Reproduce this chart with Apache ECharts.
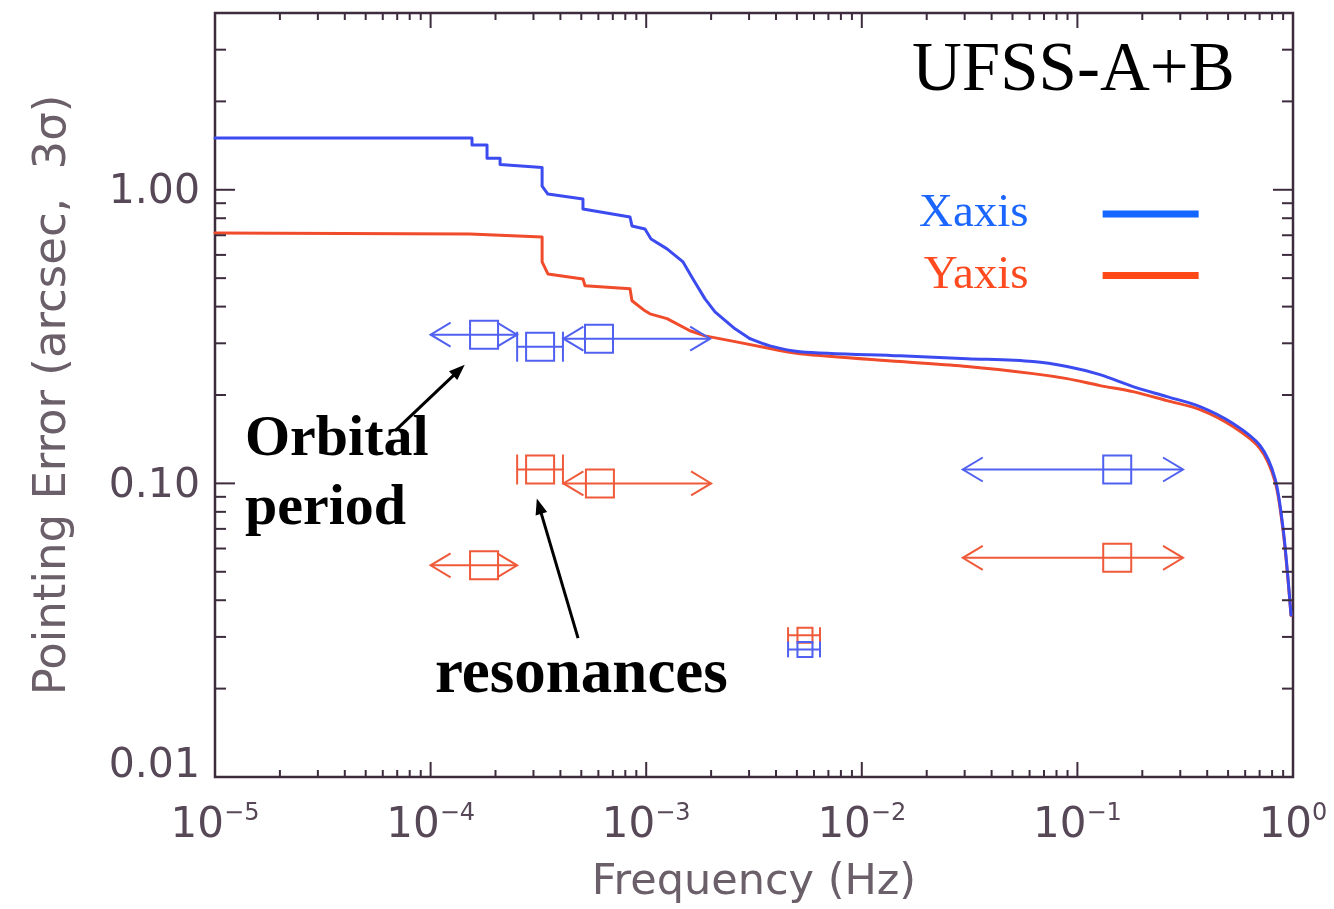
<!DOCTYPE html>
<html>
<head>
<meta charset="utf-8">
<script src="https://cdn.jsdelivr.net/npm/echarts@6/dist/echarts.min.js"></script>
<style>
  html, body { margin: 0; padding: 0; background: #ffffff; }
  #chart { width: 1334px; height: 909px; }
</style>
</head>
<body>
<div id="chart"></div>
<script>
// Cumulative pointing error (3 sigma) against frequency, UFSS-A+B

// X-axis attitude error curve
const xaxisFreq = [1e-5, 1.556e-4, 1.556e-4, 1.827e-4, 1.827e-4, 2.10e-4, 2.10e-4, 3.29e-4, 3.29e-4, 3.50e-4,
  5.09e-4, 5.09e-4, 8.41e-4, 8.59e-4, 9.87e-4, 1.053e-3, 1.249e-3, 1.482e-3, 1.648e-3, 1.874e-3,
  2.085e-3, 2.582e-3, 3.03e-3, 3.75e-3, 5.17e-3, 1.504e-2, 3.08e-2, 6.22e-2, 8.95e-2, 0.1273,
  0.1811, 0.2603, 0.3703, 0.527, 0.703, 0.825, 0.899, 0.948, 0.979];
const xaxisError = [1.50, 1.50, 1.42, 1.42, 1.28, 1.28, 1.22, 1.19, 1.03, 0.967,
  0.930, 0.860, 0.808, 0.753, 0.735, 0.680, 0.629, 0.568, 0.497, 0.425,
  0.384, 0.336, 0.311, 0.294, 0.281, 0.272, 0.266, 0.260, 0.250, 0.2346,
  0.2136, 0.1975, 0.1827, 0.160, 0.1346, 0.104, 0.0704, 0.0476, 0.0356];

// Y-axis attitude error curve
const yaxisFreq = [1e-5, 1.523e-4, 3.29e-4, 3.29e-4, 3.50e-4, 5.09e-4, 5.20e-4, 8.41e-4, 8.59e-4, 9.87e-4,
  1.041e-3, 1.249e-3, 1.596e-3, 1.874e-3, 2.582e-3, 3.75e-3, 5.17e-3, 1.504e-2, 3.08e-2, 6.22e-2,
  8.95e-2, 0.1273, 0.1811, 0.2603, 0.3703, 0.527, 0.703, 0.825, 0.899, 0.948, 0.979];
const yaxisError = [0.713, 0.707, 0.691, 0.568, 0.517, 0.497, 0.471, 0.460, 0.419, 0.387,
  0.378, 0.364, 0.331, 0.318, 0.304, 0.288, 0.2765, 0.260, 0.250, 0.2365,
  0.2274, 0.2153, 0.2054, 0.1914, 0.1784, 0.1562, 0.1315, 0.1016, 0.0692, 0.0468, 0.0355];

// Above this frequency both curves roll off smoothly; below it they are stepped
const SMOOTH_FROM = 3.0e-3;

// Disturbance bands: [centre freq, error, low freq, high freq, low end, high end]
const ARROW = 0, CAP = 1;
const xaxisBands = [
  [1.77e-4, 0.321, 1.0e-4, 2.52e-4, ARROW, ARROW],
  [3.22e-4, 0.292, 2.52e-4, 4.11e-4, CAP, CAP],
  [6.04e-4, 0.311, 4.13e-4, 1.98e-3, ARROW, ARROW],
  [0.153, 0.1115, 0.0294, 0.309, ARROW, ARROW]
];
const yaxisBands = [
  [3.22e-4, 0.1115, 2.52e-4, 4.11e-4, CAP, CAP],
  [6.10e-4, 0.100, 4.13e-4, 2.0e-3, ARROW, ARROW],
  [1.77e-4, 0.0526, 1.0e-4, 2.52e-4, ARROW, ARROW],
  [0.153, 0.0558, 0.0294, 0.309, ARROW, ARROW]
];
const xaxisNarrow = [[5.45e-3, 0.0272, 4.55e-3, 6.4e-3, CAP, CAP]];
const yaxisNarrow = [[5.45e-3, 0.0304, 4.55e-3, 6.4e-3, CAP, CAP]];

// Callout arrows: [tail freq, tail error, head freq, head error]
const calloutArrows = [
  [6.84e-5, 0.151, 1.44e-4, 0.2537],
  [4.83e-4, 0.0297, 3.11e-4, 0.0889]
];

// Axis ranges and tick labels
const X_MIN = 1e-5, X_MAX = 1, Y_MIN = 0.01, Y_MAX = 4;
const xTickExponents = [-5, -4, -3, -2, -1, 0];
const yTickValues = [0.01, 0.1, 1];
const yTickLabels = ['0.01', '0.10', '1.00'];

const AXIS_INK = '#3d2c3d';
const LABEL_INK = '#574857';
const TITLE_INK = '#6b5f6a';
const BLUE_CURVE = '#3c4bf0', RED_CURVE = '#f04b2b';
const BLUE_MARK = '#5060f0', RED_MARK = '#ef5a3a';

function logTicks(lo, hi) {
  const out = [];
  for (let e = Math.floor(Math.log10(lo) + 1e-9); Math.pow(10, e) <= hi * 1.0001; e++) {
    for (let m = 1; m < 10; m++) {
      const v = m * Math.pow(10, e);
      if (v >= lo * 0.9999 && v <= hi * 1.0001) out.push([v, m === 1 ? 1 : 0]);
    }
  }
  return out;
}
const xTicks = logTicks(X_MIN, X_MAX).map(t => [t[0], Y_MIN, t[1]]);
const yTicks = logTicks(Y_MIN, Y_MAX).map(t => [X_MIN, t[0], t[1]]);

function tickStyle() { return { stroke: AXIS_INK, lineWidth: 2 }; }

function renderXTick(params, api) {
  const v = api.value(0), major = api.value(2);
  const b = api.coord([v, Y_MIN]), t = api.coord([v, Y_MAX]);
  const len = major ? 15 : 7;
  return { type: 'group', children: [
    { type: 'line', shape: { x1: b[0], y1: b[1], x2: b[0], y2: b[1] - len }, style: tickStyle() },
    { type: 'line', shape: { x1: t[0], y1: t[1], x2: t[0], y2: t[1] + len }, style: tickStyle() }
  ]};
}
function renderYTick(params, api) {
  const v = api.value(1), major = api.value(2);
  const l = api.coord([X_MIN, v]), r = api.coord([X_MAX, v]);
  const len = major ? 20 : 11;
  return { type: 'group', children: [
    { type: 'line', shape: { x1: l[0], y1: l[1], x2: l[0] + len, y2: l[1] }, style: tickStyle() },
    { type: 'line', shape: { x1: r[0], y1: r[1], x2: r[0] - len, y2: r[1] }, style: tickStyle() }
  ]};
}

function endMark(x, y, kind, dir, capHalf, st) {
  if (kind === CAP) {
    return { type: 'line', shape: { x1: x, y1: y - capHalf, x2: x, y2: y + capHalf }, style: st };
  }
  return { type: 'polyline', shape: { points: [[x - dir * 20, y - 12], [x, y], [x - dir * 20, y + 12]] }, style: st };
}
function bandRenderer(size, capHalf) {
  return function (params, api) {
    const e = api.value(1);
    const c = api.coord([api.value(0), e]);
    const l = api.coord([api.value(2), e]);
    const r = api.coord([api.value(3), e]);
    const color = api.visual('color');
    const st = { stroke: color, lineWidth: 2, fill: null };
    return { type: 'group', children: [
      { type: 'line', shape: { x1: l[0], y1: c[1], x2: r[0], y2: c[1] }, style: st },
      { type: 'rect', shape: { x: c[0] - size / 2, y: c[1] - size / 2, width: size, height: size },
        style: { stroke: color, lineWidth: 2, fill: 'none' } },
      endMark(l[0], c[1], api.value(4), -1, capHalf, st),
      endMark(r[0], c[1], api.value(5), 1, capHalf, st)
    ]};
  };
}

function renderCallout(params, api) {
  const a = api.coord([api.value(0), api.value(1)]);
  const b = api.coord([api.value(2), api.value(3)]);
  const ang = Math.atan2(b[1] - a[1], b[0] - a[0]);
  const ux = Math.cos(ang), uy = Math.sin(ang);
  const L = 16, W = 6;
  const bx = b[0] - ux * L, by = b[1] - uy * L;
  return { type: 'group', children: [
    { type: 'line', shape: { x1: a[0], y1: a[1], x2: bx + ux * 2, y2: by + uy * 2 },
      style: { stroke: '#000', lineWidth: 3 } },
    { type: 'polygon', shape: { points: [[b[0], b[1]], [bx - uy * W, by + ux * W], [bx + uy * W, by - ux * W]] },
      style: { fill: '#000' } }
  ]};
}

const zip = (fs, vs) => fs.map((f, i) => [f, vs[i]]);
// Split a curve into its stepped low-frequency part and smooth roll-off, sharing one point
function splitCurve(fs, vs) {
  const pts = zip(fs, vs);
  let k = pts.findIndex(p => p[0] >= SMOOTH_FROM);
  if (k < 0) k = pts.length - 1;
  return [pts.slice(0, k + 1), pts.slice(k)];
}
const [xaxisStepped, xaxisRolloff] = splitCurve(xaxisFreq, xaxisError);
const [yaxisStepped, yaxisRolloff] = splitCurve(yaxisFreq, yaxisError);

function curveSeries(name, data, color, smooth, z) {
  return { name: name, type: 'line', data: data, showSymbol: false, symbol: 'none',
    smooth: smooth ? 0.3 : false,
    lineStyle: { color: color, width: 3, cap: 'round', join: 'round' }, itemStyle: { color: color }, z: z };
}

const chart = echarts.init(document.getElementById('chart'), null, { renderer: 'canvas' });
chart.setOption({
  backgroundColor: '#ffffff',
  animation: false,
  grid: {
    left: 215, top: 13, right: 41, bottom: 132,
    show: true, borderColor: AXIS_INK, borderWidth: 2.5, backgroundColor: 'transparent',
    containLabel: false, outerBoundsMode: 'none'
  },
  legend: {
    orient: 'vertical', left: 919, top: 189, padding: 0,
    align: 'right', icon: 'rect', itemWidth: 96, itemHeight: 7, itemGap: 11.5,
    selectedMode: false,
    textStyle: { fontFamily: '"Liberation Serif", serif', fontSize: 47, lineHeight: 50, padding: [0, 69, 0, 0] },
    data: [
      { name: 'Xaxis', itemStyle: { color: '#1565ff' }, textStyle: { color: '#1a66ff' } },
      { name: 'Yaxis', itemStyle: { color: '#ff4a18' }, textStyle: { color: '#ff4a1f' } }
    ]
  },
  xAxis: {
    type: 'log', logBase: 10, min: X_MIN, max: X_MAX, splitNumber: 5,
    axisLine: { show: false }, axisTick: { show: false }, splitLine: { show: false },
    axisLabel: {
      margin: 25, color: LABEL_INK,
      formatter: function (v) {
        const e = Math.round(Math.log10(v));
        if (Math.abs(Math.log10(v) - e) > 1e-6 || xTickExponents.indexOf(e) < 0) return '';
        return '{b|10}{s|' + (e < 0 ? '\u2212' + (-e) : String(e)) + '}';
      },
      rich: {
        b: { fontFamily: '"DejaVu Sans", sans-serif', fontSize: 42, lineHeight: 48, color: LABEL_INK },
        s: { fontFamily: '"DejaVu Sans", sans-serif', fontSize: 24, lineHeight: 24, verticalAlign: 'top', color: LABEL_INK }
      }
    },
    name: 'Frequency (Hz)', nameLocation: 'middle', nameGap: 84,
    nameTextStyle: { fontFamily: '"DejaVu Sans", sans-serif', fontSize: 43, color: TITLE_INK }
  },
  yAxis: {
    type: 'log', logBase: 10, min: Y_MIN, max: Y_MAX,
    axisLine: { show: false }, axisTick: { show: false }, splitLine: { show: false },
    axisLabel: {
      margin: 15, color: LABEL_INK, showMaxLabel: false,
      formatter: function (v) {
        for (let i = 0; i < yTickValues.length; i++) {
          if (Math.abs(Math.log10(v) - Math.log10(yTickValues[i])) < 1e-6) {
            return (i === 0 ? '{low|' : '{n|') + yTickLabels[i] + '}';
          }
        }
        return '';
      },
      rich: {
        n: { fontFamily: '"DejaVu Sans", sans-serif', fontSize: 41, color: LABEL_INK, padding: [6, 0, 0, 0] },
        low: { fontFamily: '"DejaVu Sans", sans-serif', fontSize: 41, color: LABEL_INK, padding: [0, 0, 22, 0] }
      }
    },
    name: 'Pointing Error (arcsec,  3\u03c3)', nameLocation: 'middle', nameGap: 139,
    nameTextStyle: { fontFamily: '"DejaVu Sans", sans-serif', fontSize: 45, color: TITLE_INK }
  },
  graphic: [
    { type: 'text', x: 912, y: 72, silent: true,
      style: { text: 'UFSS-A+B', font: '69px "Liberation Serif", serif', fill: '#000', align: 'left', verticalAlign: 'middle' } },
    { type: 'text', x: 245, y: 440, silent: true,
      style: { text: 'Orbital', font: 'bold 58px "Liberation Serif", serif', fill: '#000', align: 'left', verticalAlign: 'middle' } },
    { type: 'text', x: 245, y: 509, silent: true,
      style: { text: 'period', font: 'bold 58px "Liberation Serif", serif', fill: '#000', align: 'left', verticalAlign: 'middle' } },
    { type: 'text', x: 435, y: 676, silent: true,
      style: { text: 'resonances', font: 'bold 63px "Liberation Serif", serif', fill: '#000', align: 'left', verticalAlign: 'middle' } }
  ],
  series: [
    curveSeries('Yaxis', yaxisStepped, RED_CURVE, false, 2),
    curveSeries('Yaxis', yaxisRolloff, RED_CURVE, true, 2),
    curveSeries('Xaxis', xaxisStepped, BLUE_CURVE, false, 3),
    curveSeries('Xaxis', xaxisRolloff, BLUE_CURVE, true, 3),
    { type: 'custom', name: 'Xaxis bands', data: xaxisBands, renderItem: bandRenderer(28, 15),
      itemStyle: { color: BLUE_MARK }, encode: { x: 0, y: 1 }, clip: false, silent: true, z: 4 },
    { type: 'custom', name: 'Yaxis bands', data: yaxisBands, renderItem: bandRenderer(28, 15),
      itemStyle: { color: RED_MARK }, encode: { x: 0, y: 1 }, clip: false, silent: true, z: 4 },
    { type: 'custom', name: 'Yaxis narrow', data: yaxisNarrow, renderItem: bandRenderer(15, 8),
      itemStyle: { color: RED_MARK }, encode: { x: 0, y: 1 }, clip: false, silent: true, z: 4 },
    { type: 'custom', name: 'Xaxis narrow', data: xaxisNarrow, renderItem: bandRenderer(15, 8),
      itemStyle: { color: BLUE_MARK }, encode: { x: 0, y: 1 }, clip: false, silent: true, z: 5 },
    { type: 'custom', name: 'callouts', data: calloutArrows, renderItem: renderCallout,
      encode: { x: 0, y: 1 }, clip: false, silent: true, z: 6 },
    { type: 'custom', name: 'x ticks', data: xTicks, renderItem: renderXTick,
      encode: { x: 0, y: 1 }, clip: false, silent: true, z: 7 },
    { type: 'custom', name: 'y ticks', data: yTicks, renderItem: renderYTick,
      encode: { x: 0, y: 1 }, clip: false, silent: true, z: 7 }
  ]
});
</script>
</body>
</html>
